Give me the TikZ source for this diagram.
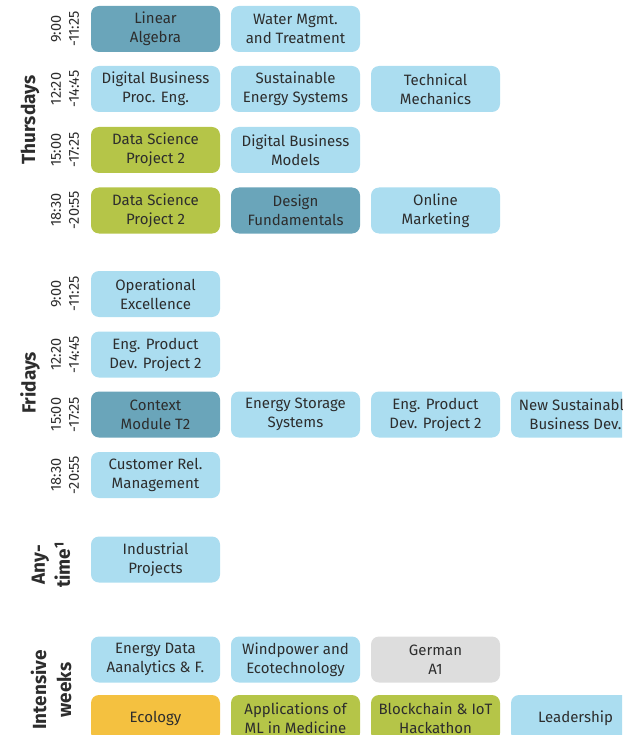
\documentclass[tikz,border=0pt]{standalone}
\usepackage{fontspec}
\setmainfont{Fira Sans}
\definecolor{lightsky}{RGB}{171,221,240}
\definecolor{darkteal}{RGB}{106,165,186}
\definecolor{lime}{RGB}{181,197,72}
\definecolor{amber}{RGB}{244,193,64}
\definecolor{pale}{RGB}{221,221,221}
\definecolor{ink}{RGB}{45,45,45}

\tikzset{
  course/.style={rectangle, rounded corners=8pt, minimum width=129pt, minimum height=46pt,
    inner sep=0pt, align=center, text=ink, font=\fontsize{15}{19}\selectfont},
  slot/.style={rotate=90, align=center, text=ink, font=\fontsize{14.5}{18}\selectfont},
  day/.style={rotate=90, align=center, text=ink, font=\fontsize{19}{25}\selectfont\bfseries}
}

\begin{document}
\begin{tikzpicture}[x=1pt, y=-1pt]
                \useasboundingbox (0,0) rectangle (622,735);
                \clip (0,0) rectangle (622,735);

                % Thursdays
                \node[day] (thu) at (30,120) {Thursdays};
                \node[slot] (thuA) at (65,29) {9:00\\-11:25};
                \node[slot] (thuB) at (65,89) {12:20\\-14:45};
                \node[slot] (thuC) at (65,150) {15:00\\-17:25};
                \node[slot] (thuD) at (65,210) {18:30\\-20:55};
                \node[course, fill=darkteal] (linalg) at (155.5,29) {Linear\\Algebra};
                \node[course, fill=lightsky] (water) at (295.5,29) {Water Mgmt.\\and Treatment};
                \node[course, fill=lightsky] (dbpe) at (155.5,89) {Digital Business\\Proc. Eng.};
                \node[course, fill=lightsky] (ses) at (295.5,89) {Sustainable\\Energy Systems};
                \node[course, fill=lightsky] (techmech) at (435.5,89) {Technical\\Mechanics};
                \node[course, fill=lime] (dsp) at (155.5,150) {Data Science\\Project 2};
                \node[course, fill=lightsky] (dbm) at (295.5,150) {Digital Business\\Models};
                \node[course, fill=lime] (dspeve) at (155.5,210.5) {Data Science\\Project 2};
                \node[course, fill=darkteal] (design) at (295.5,210.5) {Design\\Fundamentals};
                \node[course, fill=lightsky] (online) at (435.5,210.5) {Online\\Marketing};

                % Fridays
                \node[day] (fri) at (30,383) {Fridays};
                \node[slot] (friA) at (65,294) {9:00\\-11:25};
                \node[slot] (friB) at (65,354.5) {12:20\\-14:45};
                \node[slot] (friC) at (65,414.5) {15:00\\-17:25};
                \node[slot] (friD) at (65,475) {18:30\\-20:55};
                \node[course, fill=lightsky] (opex) at (155.5,294) {Operational\\Excellence};
                \node[course, fill=lightsky] (epd) at (155.5,354.5) {Eng. Product\\Dev. Project 2};
                \node[course, fill=darkteal] (context) at (155.5,414.5) {Context\\Module T2};
                \node[course, fill=lightsky] (storage) at (295.5,414.5) {Energy Storage\\Systems};
                \node[course, fill=lightsky] (epdtwo) at (435.5,414.5) {Eng. Product\\Dev. Project 2};
                \node[course, fill=lightsky] (nsbd) at (575.5,414.5) {New Sustainable\\Business Dev.};
                \node[course, fill=lightsky] (crm) at (155.5,475) {Customer Rel.\\Management};

                % Anytime
                \node[day] (any) at (51,565) {Any-\\time\textsuperscript{1}};
                \node[course, fill=lightsky] (indproj) at (155.5,559.5) {Industrial\\Projects};

                % Intensive weeks
                \node[day] (intensive) at (51,690) {Intensive\\weeks};
                \node[course, fill=lightsky] (eda) at (155.5,659.5) {Energy Data\\Aanalytics \& F.};
                \node[course, fill=lightsky] (wind) at (295.5,659.5) {Windpower and\\Ecotechnology};
                \node[course, fill=pale] (german) at (435.5,659.5) {German\\A1};
                \node[course, fill=amber] (ecology) at (155.5,718) {Ecology};
                \node[course, fill=lime] (mlmed) at (295.5,718) {Applications of\\ML in Medicine};
                \node[course, fill=lime] (hackathon) at (435.5,718) {Blockchain \& IoT\\Hackathon};
                \node[course, fill=lightsky] (leadership) at (575.5,718) {Leadership};
\end{tikzpicture}
\end{document}
